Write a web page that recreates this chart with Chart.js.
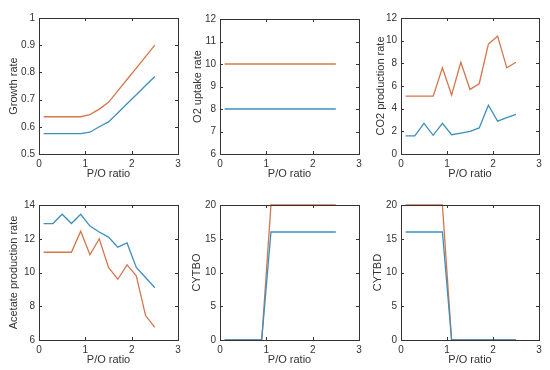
<!DOCTYPE html>
<html><head><meta charset="utf-8">
<script src="https://cdn.jsdelivr.net/npm/chart.js@4.4.1/dist/chart.umd.min.js"></script>
<style>
html,body{margin:0;padding:0;background:#fff;}
#wrap{position:relative;width:550px;height:370px;}
canvas{position:absolute;left:0;top:0;}
</style></head><body>
<div id="wrap">
<canvas id="c0" width="550" height="370"></canvas>
<canvas id="c1" width="550" height="370"></canvas>
<canvas id="c2" width="550" height="370"></canvas>
<canvas id="c3" width="550" height="370"></canvas>
<canvas id="c4" width="550" height="370"></canvas>
<canvas id="c5" width="550" height="370"></canvas>
</div>
<script>
const poRatio = [0.1,0.3,0.5,0.7,0.9,1.1,1.3,1.5,1.7,1.9,2.1,2.3,2.5];
const xTicks = [0,1,2,3];
const xLabel = 'P/O ratio';

const growthBlue = [0.575,0.575,0.575,0.575,0.575,0.58,0.6,0.618,0.651,0.685,0.718,0.752,0.785];
const growthOrange = [0.637,0.637,0.637,0.637,0.637,0.645,0.665,0.69,0.732,0.774,0.816,0.858,0.9];
const o2Blue = [8,8,8,8,8,8,8,8,8,8,8,8,8];
const o2Orange = [10,10,10,10,10,10,10,10,10,10,10,10,10];
const co2Blue = [1.6,1.6,2.7,1.65,2.7,1.7,1.85,2.0,2.3,4.3,2.9,3.2,3.5];
const co2Orange = [5.1,5.1,5.1,5.1,7.6,5.2,8.1,5.7,6.2,9.7,10.4,7.6,8.1];
const acetateBlue = [12.9,12.9,13.45,12.9,13.45,12.75,12.4,12.1,11.5,11.75,10.3,9.7,9.1];
const acetateOrange = [11.2,11.2,11.2,11.2,12.45,11.05,12.0,10.3,9.6,10.45,9.8,7.45,6.75];
const cytboBlue = [0,0,0,0,0,16,16,16,16,16,16,16,16];
const cytboOrange = [0,0,0,0,0,20,20,20,20,20,20,20,20];
const cytbdBlue = [16,16,16,16,16,0,0,0,0,0,0,0,0];
const cytbdOrange = [20,20,20,20,20,0,0,0,0,0,0,0,0];

const panels = [
  {title:'Growth rate', blue:growthBlue, orange:growthOrange, ymin:0.5, ymax:1, yTicks:[0.5,0.6,0.7,0.8,0.9,1], box:[39,178,18,154], ytitleX:14},
  {title:'O2 uptake rate', blue:o2Blue, orange:o2Orange, ymin:6, ymax:12, yTicks:[6,7,8,9,10,11,12], box:[220,359,19,154], ytitleX:198},
  {title:'CO2 production rate', blue:co2Blue, orange:co2Orange, ymin:0, ymax:12, yTicks:[0,2,4,6,8,10,12], box:[401,539,18,154], ytitleX:381},
  {title:'Acetate production rate', blue:acetateBlue, orange:acetateOrange, ymin:6, ymax:14, yTicks:[6,8,10,12,14], box:[39,178,205,340], ytitleX:14},
  {title:'CYTBO', blue:cytboBlue, orange:cytboOrange, ymin:0, ymax:20, yTicks:[0,5,10,15,20], box:[220,359,205,340], ytitleX:197},
  {title:'CYTBD', blue:cytbdBlue, orange:cytbdOrange, ymin:0, ymax:20, yTicks:[0,5,10,15,20], box:[401,539,205,340], ytitleX:378}
];

const BLUE = '#3e8fbd';
const ORANGE = '#d5764b';
const AXIS = '#333333';
const FONT = "'Liberation Sans', Arial, sans-serif";

const fmt = (v)=> String(Math.round(v*100)/100);

const boxPlugin = {
  id:'boxTicks',
  afterDatasetsDraw(chart){
    const {ctx, chartArea:a, scales} = chart;
    ctx.save();
    ctx.strokeStyle = AXIS;
    ctx.lineWidth = 1;
    const tl = 3;
    scales.x.ticks.forEach(t=>{
      const px = Math.round(scales.x.getPixelForValue(t.value))+0.5;
      ctx.beginPath();
      ctx.moveTo(px,a.bottom); ctx.lineTo(px,a.bottom-tl);
      ctx.moveTo(px,a.top); ctx.lineTo(px,a.top+tl);
      ctx.stroke();
    });
    scales.y.ticks.forEach(t=>{
      const py = Math.round(scales.y.getPixelForValue(t.value))+0.5;
      ctx.beginPath();
      ctx.moveTo(a.left,py); ctx.lineTo(a.left+tl,py);
      ctx.moveTo(a.right,py); ctx.lineTo(a.right-tl,py);
      ctx.stroke();
    });
    ctx.strokeRect(Math.round(a.left)+0.5, Math.round(a.top)+0.5, Math.round(a.right-a.left), Math.round(a.bottom-a.top));
    ctx.restore();
  }
};

panels.forEach((p,i)=>{
  const [L,R,T,B] = p.box;
  const yW = L - (p.ytitleX - 7);
  const xH = 27;
  const padL = p.ytitleX - 7;
  const padR = 550 - R;
  const padT = T;
  const padB = 370 - B - xH;
  new Chart(document.getElementById('c'+i), {
    type:'line',
    data:{datasets:[
      {data:poRatio.map((x,k)=>({x:x,y:p.blue[k]})), borderColor:BLUE, borderWidth:1.3, pointRadius:0, tension:0, fill:false},
      {data:poRatio.map((x,k)=>({x:x,y:p.orange[k]})), borderColor:ORANGE, borderWidth:1.3, pointRadius:0, tension:0, fill:false}
    ]},
    options:{
      responsive:false, animation:false, devicePixelRatio:1,
      clip:false,
      layout:{padding:{left:padL,right:padR,top:padT,bottom:padB}},
      plugins:{legend:{display:false}, tooltip:{enabled:false}},
      scales:{
        x:{type:'linear', min:0, max:3,
          afterBuildTicks:(s)=>{s.ticks = xTicks.map(v=>({value:v}));},
          afterFit:(s)=>{s.height = xH;},
          grid:{display:false, drawTicks:false}, border:{display:false},
          ticks:{color:AXIS, font:{family:FONT,size:10}, padding:4, maxRotation:0, callback:fmt},
          title:{display:true, text:xLabel, color:AXIS, font:{family:FONT,size:11}, padding:0}
        },
        y:{type:'linear', min:p.ymin, max:p.ymax,
          afterBuildTicks:(s)=>{s.ticks = p.yTicks.map(v=>({value:v}));},
          afterFit:(s)=>{s.width = yW;},
          grid:{display:false, drawTicks:false}, border:{display:false},
          ticks:{color:AXIS, font:{family:FONT,size:10}, padding:4, callback:fmt},
          title:{display:true, text:p.title, color:AXIS, font:{family:FONT,size:11}, padding:0}
        }
      }
    },
    plugins:[boxPlugin]
  });
});
</script>
</body></html>
